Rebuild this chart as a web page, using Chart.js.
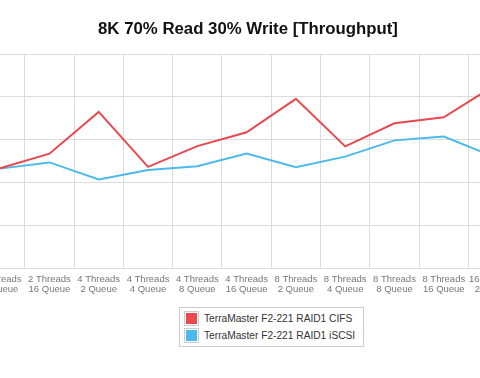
<!DOCTYPE html>
<html>
<head>
<meta charset="utf-8">
<script src="https://cdn.jsdelivr.net/npm/chart.js@4"></script>
<style>
  html, body { margin: 0; padding: 0; background: #fff; }
  body { width: 480px; height: 378px; position: relative; overflow: hidden; font-family: "Liberation Sans", Arial, Helvetica, sans-serif; }
  #wrap { position: absolute; left: -27.5px; top: 0; width: 550px; height: 306px; }
  #legend { position: absolute; left: 179px; top: 307px; border: 1px solid #ccc; padding: 2px 8px 2px 4px; font-size: 10.2px; color: #333; }
  #legend .row { display: flex; align-items: center; height: 17px; }
  #legend .sw { width: 11px; height: 11px; border: 1px solid #ccc; padding: 1px; margin-right: 5px; }
  #legend .sw span { display: block; width: 100%; height: 100%; }
</style>
</head>
<body>
<div id="wrap"><canvas id="chart" width="550" height="306"></canvas></div>
<div id="legend"></div>
<script>
// visible part of the test matrix
const threads = ['2', '2', '4', '4', '4', '4', '8', '8', '8', '8', '16'];
const queues = ['8', '16', '2', '4', '8', '16', '2', '4', '8', '16', '2'];
const cifs = [46.7, 53.5, 73.0, 47.3, 57.0, 63.5, 79.1, 56.9, 67.7, 70.5, 84.9];
const iscsi = [46.5, 49.4, 41.4, 45.9, 47.6, 53.5, 47.1, 52.1, 59.7, 61.5, 52.2];
const seriesNames = ['TerraMaster F2-221 RAID1 CIFS', 'TerraMaster F2-221 RAID1 iSCSI'];
const seriesColors = ['#e8494f', '#4cb9ed'];

const labels = threads.map((t, i) => [t + ' Threads', queues[i] + ' Queue']);

const chart = new Chart(document.getElementById('chart'), {
    type: 'line',
    data: {
        labels: labels,
        datasets: [cifs, iscsi].map((d, i) => ({
            label: seriesNames[i],
            data: d,
            borderColor: seriesColors[i],
            backgroundColor: seriesColors[i],
            borderWidth: 2,
            pointRadius: 0,
            tension: 0,
            fill: false
        }))
    },
    options: {
        responsive: false,
        animation: false,
        devicePixelRatio: 1,
        layout: { padding: { left: 0, right: 0, top: 0, bottom: 5 } },
        plugins: {
            legend: { display: false },
            tooltip: { enabled: false },
            title: {
                display: true,
                text: '8K 70% Read 30% Write [Throughput]',
                color: '#111',
                font: { family: '"Liberation Sans", Arial, sans-serif', size: 16.8, weight: 'bold' },
                padding: { top: 19, bottom: 15 }
            }
        },
        scales: {
            x: {
                offset: true,
                grid: { offset: true, color: '#dcdcdc', drawTicks: false },
                border: { color: '#dcdcdc' },
                ticks: {
                    color: '#777',
                    padding: 6,
                    maxRotation: 0,
                    autoSkip: false,
                    font: { family: '"Liberation Sans", Arial, sans-serif', size: 9.5, lineHeight: 1.1 }
                }
            },
            y: {
                min: 0,
                max: 100,
                grid: { color: '#dcdcdc', drawTicks: false },
                border: { display: false },
                ticks: { display: false, stepSize: 20 }
            }
        }
    }
});

// html legend built from the datasets
const legend = document.getElementById('legend');
chart.data.datasets.forEach(ds => {
    const row = document.createElement('div');
    row.className = 'row';
    row.innerHTML = `<div class="sw"><span style="background:${ds.borderColor}"></span></div><div>${ds.label}</div>`;
    legend.appendChild(row);
});
</script>
</body>
</html>
